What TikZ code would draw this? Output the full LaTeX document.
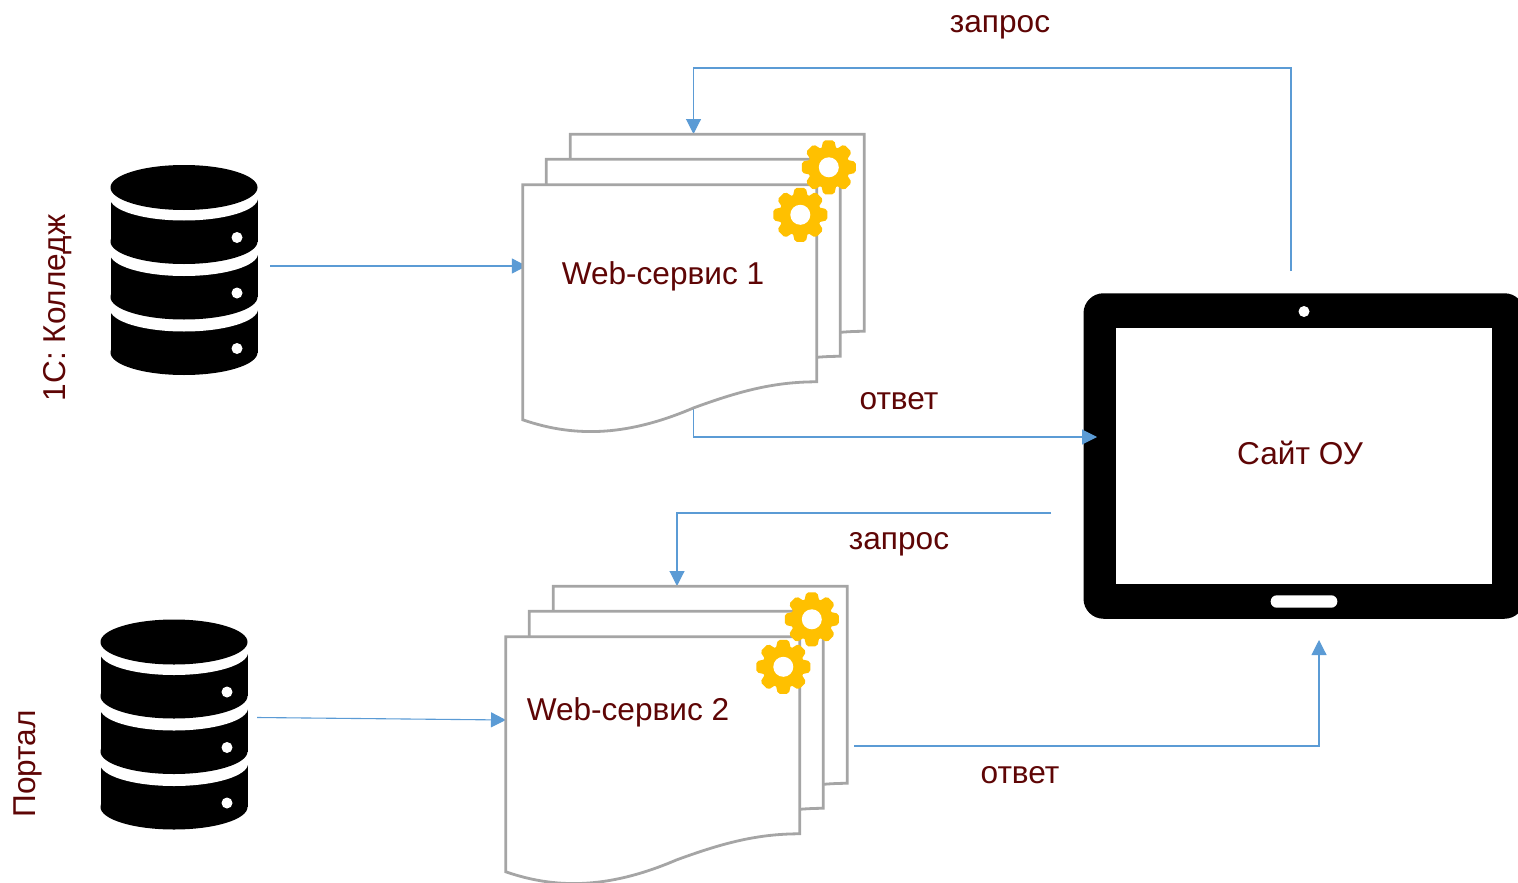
\documentclass[tikz,border=0pt]{standalone}
\usepackage{fontspec}
\setmainfont{Liberation Sans}
\usetikzlibrary{arrows.meta}
\definecolor{linkblue}{HTML}{5B9BD5}
\definecolor{pagegray}{HTML}{A5A5A5}
\definecolor{gearyellow}{HTML}{FFC000}
\definecolor{textred}{HTML}{5E0505}
\tikzset{
  lbl/.style={font=\fontsize{31.6}{36}\selectfont,text=textred,inner sep=0pt,text height=23pt,text depth=7pt},
  link/.style={draw=linkblue,line width=1.1pt},
  holder/.style={inner sep=0pt,minimum width=#1},
  pics/cog/.style={code={
    \fill[gearyellow] (0,0) circle (21);
    \foreach \a in {0,45,...,315}
      \fill[gearyellow,rotate=\a,rounded corners=2pt] (-8,16) -- (-5.5,27) -- (5.5,27) -- (8,16) -- cycle;
    \fill[white] (0,0) circle (10);
  }},
  pics/sheet/.style={code={
    \filldraw[fill=white,draw=pagegray,line width=2.8pt,line join=miter]
      (0,0) -- (294,0) -- (294,197)
      .. controls (250,197) and (215,207) .. (171,223)
      .. controls (108,250) and (55,254) .. (0,235) -- cycle;
  }},
  pics/sheets/.style={code={
    \pic at (47.5,-50.5) {sheet};
    \pic at (23.5,-25.5) {sheet};
    \pic at (0,0)    {sheet};
    \pic at (306,-17.5) {cog};
    \pic at (277.5,30)  {cog};
  }},
  pics/dbstack/.style={code={
    \foreach \i in {2,1,0} {
      \fill[black] (-73.5,10.5+55.5*\i) rectangle (73.5,54+55.5*\i);
      \fill[black] (0,54+55.5*\i) ellipse (73.5 and 22.5);
      \fill[white] (0,10.5+55.5*\i) ellipse (74 and 22.5);
      \fill[white] (53,50+55.5*\i) circle (5.5);
    }
    \fill[black] (0,0) ellipse (73.5 and 22.5);
  }}
}
\begin{document}
\begin{tikzpicture}[x=1pt,y=-1pt,>={Triangle[length=15pt,width=15pt]},node distance=452pt]
  \useasboundingbox (0,0) rectangle (1518,883);
  \clip (0,0) rectangle (1518,883);

  \node[holder=172pt,minimum height=218pt]  (db1) at (184,266) {};
  \node[holder=166pt,minimum height=218pt]  (db2) at (174,717.5) {};
  \node[holder=294pt,minimum height=247pt]  (ws1) at (670,308.5) {};
  \node[holder=294pt,minimum height=247pt]  (ws2) [below of=ws1,xshift=-17pt] {};

  \node[fill=black,rounded corners=20pt,holder=441pt,minimum height=325.5pt] (tablet) at (1304,456) {};
  \node[fill=white,holder=375.7pt,minimum height=255.5pt] (screen) at (1304,456) {};
  \node[fill=white,circle,holder=11pt]                    (camera) at (1304,311.5) {};
  \node[fill=white,rounded corners=6pt,holder=66.6pt,minimum height=12.4pt] (homekey) at (1304,601.5) {};

  \coordinate (out1) at (1291,271);
  \coordinate (turn1) at (1291,68);
  \coordinate (in1)  at (693.5,134);
  \coordinate (back1) at (693.5,408);
  \coordinate (hit1) at (1097,437);
  \coordinate (out2) at (1051,513);
  \coordinate (in2)  at (677,586);
  \coordinate (feed2) at (506,720);
  \coordinate (back2) at (854,746);
  \coordinate (hit2) at (1319,640);

  \draw[link,->] (out1) -- (turn1) -| (in1);
  \draw[link,->,shorten >=-4pt] (db1.east) -- (ws1.west |- db1.east);
  \draw[link,->] (back1) |- (hit1);
  \draw[link,->] (out2) -| (in2);
  \draw[link,->] (db2.east) -- (feed2);
  \draw[link,->] (back2) -| (hit2);

  \pic at (ws1.north west) {sheets};
  \pic at (ws2.north west) {sheets};
  \pic at (184,187.5) {dbstack};
  \pic at (174,642)   {dbstack};

  \node[lbl] (wslabel1) at (663,276) {Web-сервис 1};
  \node[lbl] (wslabel2) at (628,712) {Web-сервис 2};
  \node[lbl] (sitelabel) at (1300,456) {Сайт ОУ};
  \node[lbl] (ask1) at (1000,25) {запрос};
  \node[lbl] (ask2) at (899,541) {запрос};
  \node[lbl] (reply1) at (899,401) {ответ};
  \node[lbl] (reply2) at (1020,775) {ответ};
  \node[lbl,rotate=90] (dbname1) at (57,308) {1С: Колледж};
  \node[lbl,rotate=90] (dbname2) at (27,764) {Портал};
\end{tikzpicture}
\end{document}
